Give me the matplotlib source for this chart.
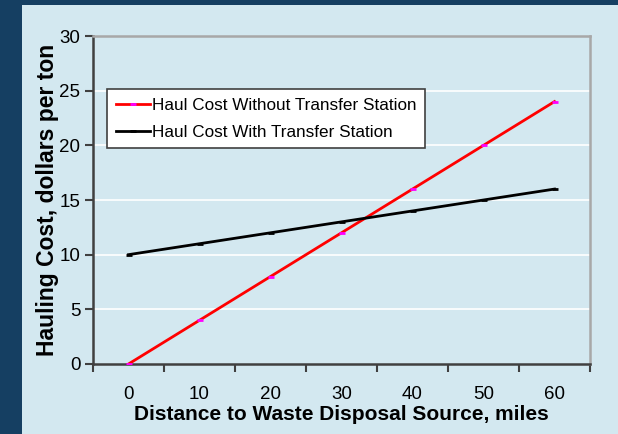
import matplotlib.pyplot as plt
from matplotlib.patches import Rectangle

plt.rcParams['font.family'] = ['Liberation Sans', 'DejaVu Sans']

distance = [0, 10, 20, 30, 40, 50, 60]
cost_without = [0, 4, 8, 12, 16, 20, 24]
cost_with = [10, 11, 12, 13, 14, 15, 16]

panel = '#d3e8f0'
border = '#153f62'

fig = plt.figure(figsize=(6.18, 4.34), dpi=100)
fig.patch.set_facecolor(border)
# light panel inset from the dark border on the top and left
fig.add_artist(Rectangle((22 / 618, 0), 1, 1 - 5 / 434, transform=fig.transFigure,
                         facecolor=panel, edgecolor='none', zorder=0))

ax = fig.add_axes((93 / 618, 1 - 364 / 434, (590 - 93) / 618, (364 - 36) / 434))
ax.set_facecolor(panel)

x = list(range(len(distance)))
ax.plot(x, cost_without, color='red', lw=2, marker='_', ms=5, mec='magenta', mew=2,
        label='Haul Cost Without Transfer Station', zorder=3)
ax.plot(x, cost_with, color='black', lw=2, marker='_', ms=5, mec='black', mew=2,
        label='Haul Cost With Transfer Station', zorder=3)

ax.set_xlim(-0.5, len(distance) - 0.5)
ax.set_ylim(0, 30)
ax.set_yticks(range(0, 31, 5))
ax.set_xticks([i - 0.5 for i in range(len(distance) + 1)])
ax.set_xticklabels([])
ax.set_xticks(x, minor=True)
ax.set_xticklabels([str(d) for d in distance], minor=True)
ax.tick_params(axis='x', which='minor', length=0, pad=16, labelsize=13.5)
ax.tick_params(axis='x', which='major', length=6, width=1.5, color='#404040')
ax.tick_params(axis='y', length=6, width=1.5, color='#404040', labelsize=13.5, pad=3)

for v in range(5, 30, 5):
    ax.axhline(v, color='white', lw=1.2, zorder=1)

for side in ('left', 'bottom'):
    ax.spines[side].set_color('#404040')
    ax.spines[side].set_linewidth(1.8)
for side in ('top', 'right'):
    ax.spines[side].set_color('#a8a8a8')
    ax.spines[side].set_linewidth(1.8)

ax.set_xlabel('Distance to Waste Disposal Source, miles', fontsize=15, fontweight='bold', labelpad=1)
ax.set_ylabel('Hauling Cost, dollars per ton', fontsize=16.5, fontweight='bold', labelpad=0)

leg = ax.legend(loc='upper left', bbox_to_anchor=(14 / 497, 1 - 53 / 328), fontsize=12.3,
                frameon=True, fancybox=False, handlelength=2.0, handletextpad=0.15,
                borderpad=0.5, labelspacing=0.7, borderaxespad=0)
leg.get_frame().set_edgecolor('#404040')
leg.get_frame().set_linewidth(1.2)
leg.get_frame().set_facecolor('white')
leg.get_frame().set_alpha(1)

fig.savefig('out.png', dpi=100, facecolor=fig.get_facecolor())
